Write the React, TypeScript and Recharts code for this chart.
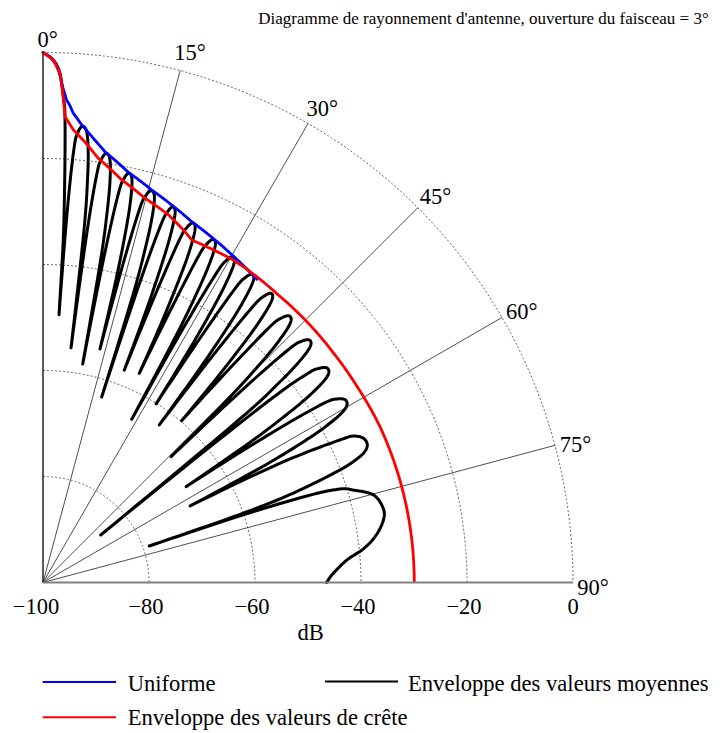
import React from 'react';
import { LineChart, Line, XAxis, YAxis, ReferenceDot } from 'recharts';

if (typeof document !== 'undefined') {
  document.documentElement.style.overflow = 'hidden';
}

type Pt = [number, number]; // [angle in degrees (0 = top, clockwise), level in dB]

const title = "Diagramme de rayonnement d'antenne, ouverture du faisceau = 3°";
const seriesNames = ['Uniforme', 'Enveloppe des valeurs moyennes', 'Enveloppe des valeurs de crête'];
const levelTicks = [-100, -80, -60, -40, -20, 0];
const angleTicks = [0, 15, 30, 45, 60, 75, 90];
const axisTitle = 'dB';

const uniforme: Pt[] = [
  [0, 0], [0.76, -0.84], [1.44, -2.13], [1.92, -4.2], [2.19, -6.06], [2.79, -8.85], [3.24, -9.9],
  [3.66, -11.2], [4.84, -13.37], [6.6, -15.85], [8.19, -17.9], [11.75, -20.95], [15.48, -23.15],
  [18.82, -24.75], [22.4, -26.37], [26.66, -27.68], [30.2, -28.7], [34.8, -29.9], [35.4, -30.0],
];

const crete: Pt[] = [
  [0, 0], [1.13, -1.4], [1.91, -3.9], [2.39, -8.3], [2.7, -12.0], [3.83, -14.4], [5.2, -16.2],
  [7.43, -19.3], [11.06, -22.6], [14.87, -25.0], [18.84, -26.7], [22.04, -28.6], [23.48, -29.55],
  [27.1, -29.5], [30.5, -29.35], [34.9, -29.6], [39.3, -29.9], [45.3, -30.0], [51.7, -30.15],
  [58.0, -30.15], [65.2, -29.95], [75, -29.95], [90, -29.95],
];

const moyennes: Pt[] = [
  [0, 0], [1.13, -1.4], [1.91, -3.9], [2.39, -8.3], [2.7, -12.0], [3.14, -25.8], [3.39, -36.2],
  [3.42, -49.4],
  [3.76, -28.5], [4.1, -17.6], [4.44, -14.8], [4.95, -13.6], [5.52, -14.5], [5.96, -17.9], [6.3, -23.4], [6.64, -33.4],
  [6.81, -55.4],
  [7.16, -33.2], [7.51, -22.2], [7.86, -19.4], [8.38, -18.2], [8.97, -19.1], [9.43, -22.7], [9.78, -28.2], [10.13, -38.2],
  [10.3, -58.1],
  [10.64, -36.1], [10.98, -25.1], [11.33, -22.3], [11.84, -21.1], [12.42, -22.0], [12.87, -25.6], [13.21, -31.1], [13.55, -41.1],
  [13.72, -54.65],
  [14.1, -38.3], [14.49, -27.3], [14.87, -24.5], [15.45, -23.3], [16.1, -24.2], [16.6, -27.8], [16.98, -33.3], [17.37, -43.3],
  [17.56, -63.3],
  [17.9, -40.0], [18.24, -29.0], [18.57, -26.2], [19.08, -25.0], [19.66, -25.9], [20.1, -29.5], [20.43, -35.0], [20.77, -45.0],
  [20.94, -57.1],
  [21.32, -41.5], [21.7, -30.5], [22.07, -27.7], [22.64, -26.5], [23.28, -27.4], [23.78, -31.0], [24.15, -36.5], [24.53, -46.5],
  [24.72, -56.55],
  [25.1, -42.7], [25.48, -31.7], [25.86, -28.9], [26.43, -27.7], [27.08, -28.6], [27.58, -32.2], [27.96, -37.7], [28.34, -47.7],
  [28.53, -64.95],
  [28.91, -43.8], [29.29, -32.8], [29.67, -30.0], [30.24, -28.8], [30.89, -29.7], [31.39, -33.3], [31.77, -38.8], [32.15, -48.8],
  [32.34, -60.1],
  [32.75, -44.7], [33.16, -33.7], [33.57, -30.9], [34.18, -29.7], [34.88, -30.6], [35.41, -34.2], [35.82, -39.7], [36.23, -49.7],
  [36.43, -63.05],
  [36.85, -45.5], [37.26, -34.5], [37.68, -31.7], [38.31, -30.5], [39.02, -31.4], [39.56, -35.0], [39.97, -40.5], [40.39, -50.5],
  [40.6, -59.8],
  [41.09, -46.5], [41.58, -35.5], [42.07, -32.7], [42.81, -31.5], [43.64, -32.4], [44.28, -36.0], [44.77, -41.5], [45.26, -51.5],
  [45.5, -66.1],
  [46.0, -47.0], [46.51, -36.0], [47.01, -33.2], [47.77, -32.0], [48.62, -32.9], [49.28, -36.5], [49.78, -42.0], [50.29, -52.0],
  [50.54, -85.9],
  [51.1, -47.8], [51.67, -36.8], [52.23, -34.0], [53.08, -32.8], [54.04, -33.7], [54.77, -37.3], [55.33, -42.8], [55.9, -52.8],
  [56.18, -67.5],
  [56.81, -48.3], [57.44, -37.3], [58.08, -34.5], [59.02, -33.3], [60.1, -34.2], [60.92, -37.8], [61.55, -43.3], [62.18, -53.3],
  [62.5, -68.7],
  [63.3, -50.0], [64.35, -37.9], [64.73, -35.3], [65.77, -33.7], [67.05, -33.55], [68.03, -34.8], [68.72, -37.2],
  [69.25, -40.1], [70.06, -47.1], [70.6, -53.0], [70.95, -62.0],
  [71.06, -78.8],
  [71.3, -62.0], [71.84, -47.6], [72.53, -41.25], [73.42, -38.9], [75.16, -35.5], [77.7, -34.3], [79.6, -34.7],
  [82.0, -36.6], [84.0, -39.2], [85.76, -42.5], [88.18, -45.2], [90, -46.5],
];

const R0 = levelTicks[0];
const FONT = "'Liberation Serif', 'Times New Roman', Times, serif";

const toXY = (a: number, db: number) => {
  const r = Math.max(0, db - R0);
  const t = (a * Math.PI) / 180;
  return { x: r * Math.sin(t), y: r * Math.cos(t) };
};

// straight segments in (angle, level) space, as a polar plot draws them
const polarLine = (pts: Pt[], step = 0.2) => {
  const out: { x: number; y: number }[] = [];
  pts.forEach((p, i) => {
    if (i === 0) {
      out.push(toXY(p[0], p[1]));
      return;
    }
    const q = pts[i - 1];
    const n = Math.max(1, Math.ceil(Math.abs(p[0] - q[0]) / step));
    for (let k = 1; k <= n; k++) {
      const t = k / n;
      out.push(toXY(q[0] + (p[0] - q[0]) * t, q[1] + (p[1] - q[1]) * t));
    }
  });
  return out;
};

// smooth curve type (Catmull-Rom in angle/level space), kept sharp at the nulls
const smoothRun = (run: Pt[], sub = 10): Pt[] => {
  const out: Pt[] = [run[0]];
  for (let i = 0; i < run.length - 1; i++) {
    const p0 = run[Math.max(0, i - 1)];
    const p1 = run[i];
    const p2 = run[i + 1];
    const p3 = run[Math.min(run.length - 1, i + 2)];
    for (let k = 1; k <= sub; k++) {
      const t = k / sub;
      const t2 = t * t;
      const t3 = t2 * t;
      const f = (a: number, b: number, c: number, d: number) =>
        0.5 * (2 * b + (-a + c) * t + (2 * a - 5 * b + 4 * c - d) * t2 + (-a + 3 * b - 3 * c + d) * t3);
      out.push([f(p0[0], p1[0], p2[0], p3[0]), f(p0[1], p1[1], p2[1], p3[1])]);
    }
  }
  return out;
};

const smoothLobes = (pts: Pt[]): Pt[] => {
  const cuts = [0];
  for (let i = 1; i < pts.length - 1; i++) {
    if (pts[i][1] < pts[i - 1][1] && pts[i][1] < pts[i + 1][1]) cuts.push(i);
  }
  cuts.push(pts.length - 1);
  const out: Pt[] = [];
  for (let c = 0; c < cuts.length - 1; c++) {
    const seg = smoothRun(pts.slice(cuts[c], cuts[c + 1] + 1));
    out.push(...(c === 0 ? seg : seg.slice(1)));
  }
  return out;
};

const arcs = levelTicks.filter((v) => v > R0).map((v) => polarLine([[0, v], [90, v]], 0.5));
const spokes = angleTicks.filter((a) => a > 0 && a < 90).map((a) => [toXY(a, R0), toXY(a, 0)]);
const spine0 = [toXY(0, R0), toXY(0, 0)];

const blueData = polarLine(uniforme);
const blackData = polarLine(smoothLobes(moyennes), 0.1);
const redData = polarLine(crete);

const W = 713;
const H = 725;

const TickLabel = (props: any) => {
  const { x, y, payload } = props;
  const v = Math.round(payload.value + R0);
  const s = v < 0 ? '\u2212' + Math.abs(v) : String(v);
  const dx = v === -100 ? -7 : v < 0 ? -3 : 0;
  return (
    <text x={x + dx} y={y + 31.5} textAnchor="middle" fontSize={22.5} fontFamily={FONT} fill="#000">
      {s}
    </text>
  );
};

const lineCommon = { dot: false, activeDot: false, isAnimationActive: false } as const;

export default function App() {
  return (
    <div style={{ position: 'relative', width: W, height: H, fontFamily: FONT }}>
      <LineChart width={W} height={H} margin={{ top: 44.5, left: 35, right: 148, bottom: 90.5 }}>
        <XAxis
          type="number"
          dataKey="x"
          domain={[0, 100]}
          ticks={[0, 20, 40, 60, 80, 100]}
          axisLine={{ stroke: '#808080', strokeWidth: 2 }}
          tickLine={false}
          tickSize={0}
          tickMargin={0}
          height={60}
          tick={<TickLabel />}
        />
        <YAxis type="number" dataKey="y" domain={[0, 100]} hide />
        {arcs.map((d, i) => (
          <Line key={'arc' + i} data={d} dataKey="y" stroke="#666" strokeWidth={1} strokeDasharray="2 2" {...lineCommon} />
        ))}
        {spokes.map((d, i) => (
          <Line key={'sp' + i} data={d} dataKey="y" stroke="#3a3a3a" strokeWidth={0.9} {...lineCommon} />
        ))}
        <Line data={spine0} dataKey="y" stroke="#000" strokeWidth={1.3} {...lineCommon} />
        <Line data={blackData} dataKey="y" name={seriesNames[1]} stroke="#000" strokeWidth={3} strokeLinecap="round"
          strokeLinejoin="round" {...lineCommon} />
        <Line data={blueData} dataKey="y" name={seriesNames[0]} stroke="#0000ff" strokeWidth={2.8}
          strokeLinejoin="round" {...lineCommon} />
        <Line data={redData} dataKey="y" name={seriesNames[2]} stroke="#ff0000" strokeWidth={2.8}
          strokeLinejoin="round" {...lineCommon} />
        {angleTicks.map((a) => {
          const p = toXY(a + 0.5, (a === 0 ? 102.5 : 103.8) + R0);
          return (
            <ReferenceDot key={'al' + a} x={p.x} y={p.y} r={1} ifOverflow="visible" fill="none" stroke="none"
              shape={(sp: any) => (
                <text x={sp.cx} y={sp.cy + 7.5} textAnchor="middle" fontSize={22.5} fontFamily={FONT} fill="#000">
                  {a + '°'}
                </text>
              )}
            />
          );
        })}
        <ReferenceDot x={50.5} y={0} r={1} ifOverflow="visible" fill="none" stroke="none"
          shape={(sp: any) => (
            <text x={sp.cx} y={sp.cy + 57.5} textAnchor="middle" fontSize={22.5} fontFamily={FONT} fill="#000">
              {axisTitle}
            </text>
          )}
        />
      </LineChart>
      <svg width={W} height={H} style={{ position: 'absolute', left: 0, top: 0, pointerEvents: 'none', overflow: 'visible' }}>
        <text x={475.5} y={16} textAnchor="middle" fontSize={17} fontFamily={FONT} fill="#000">{title}</text>
        <line x1={34.7} x2={108} y1={674} y2={674} stroke="#0000ff" strokeWidth={2} />
        <text x={119.7} y={683.3} fontSize={22.6} fontFamily={FONT} fill="#000">{seriesNames[0]}</text>
        <line x1={317} x2={390} y1={673.5} y2={673.5} stroke="#000" strokeWidth={2} />
        <text x={400} y={683.3} fontSize={22.6} fontFamily={FONT} fill="#000">{seriesNames[1]}</text>
        <line x1={34.7} x2={108} y1={709.3} y2={709.3} stroke="#ff0000" strokeWidth={2} />
        <text x={119.7} y={717.3} fontSize={22.6} fontFamily={FONT} fill="#000">{seriesNames[2]}</text>
      </svg>
    </div>
  );
}
